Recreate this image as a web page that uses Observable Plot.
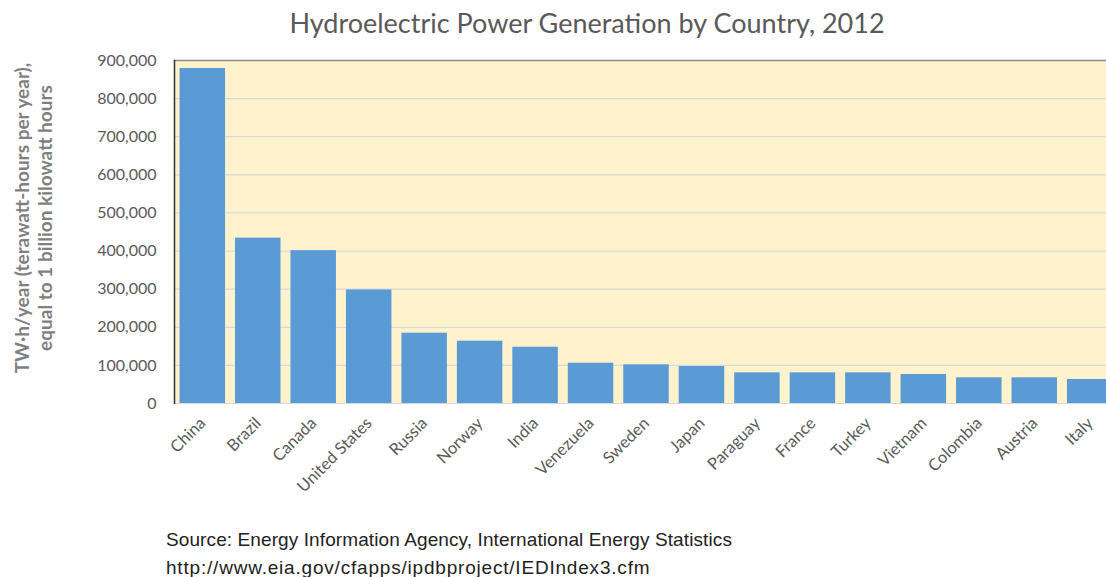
<!DOCTYPE html>
<html>
<head>
<meta charset="utf-8">
<script src="https://cdn.jsdelivr.net/npm/d3@7"></script>
<script src="https://cdn.jsdelivr.net/npm/@observablehq/plot@0.6"></script>
<style>
  html, body { margin: 0; padding: 0; background: #fff; }
  #wrap { position: relative; width: 1106px; height: 577px; overflow: hidden; }
  #title { position: absolute; left: 0; width: 1174px; top: 6px; text-align: center;
           font-family: Lato, "Open Sans", sans-serif; font-size: 27px; color: #595959; }
  #chart { position: absolute; left: 0; top: 0; }
  .src { position: absolute; left: 166px; font-family: "Liberation Sans", Arial, sans-serif;
         font-size: 19px; color: #222; white-space: nowrap; }
</style>
</head>
<body>
<div id="wrap">
  <div id="chart"></div>
  <div id="title">Hydroelectric Power Generation by Country, 2012</div>
  <div class="src" style="top:529px; letter-spacing: 0.1px">Source: Energy Information Agency, International Energy Statistics</div>
  <div class="src" style="top:557px; letter-spacing: 0.8px">http://www.eia.gov/cfapps/ipdbproject/IEDIndex3.cfm</div>
</div>
<script>
const countries = ["China","Brazil","Canada","United States","Russia","Norway","India","Venezuela","Sweden","Japan","Paraguay","France","Turkey","Vietnam","Colombia","Austria","Italy"];
const generation = [879000,434000,401000,298000,184500,163500,147700,105700,101500,97100,80500,80500,80500,76100,67400,67400,63000];
const yTicks = [0,100000,200000,300000,400000,500000,600000,700000,800000,900000];
const yAxisTitle = "TW·h/year (terawatt-hours per year),\nequal to 1 billion kilowatt hours";

const data = countries.map((c, i) => ({country: c, value: generation[i]}));

const chart = Plot.plot({
  width: 1106,
  height: 577,
  marginLeft: 174,
  marginRight: 0,
  marginTop: 60,
  marginBottom: 174,
  style: {background: "transparent", overflow: "hidden"},
  x: {domain: countries, range: [174, 1118], paddingInner: 0.18, paddingOuter: 0.1, round: false},
  y: {domain: [0, 900000]},
  marks: [
    Plot.frame({fill: "#FFF2CC", stroke: null}),
    Plot.ruleY(yTicks, {stroke: "#d6d9dc", strokeWidth: 1.2}),
    Plot.barY(data, {x: "country", y: "value", fill: "#5B9BD5"}),
    Plot.frame({anchor: "top", stroke: "#8a8a8a", strokeWidth: 1.5}),
    Plot.frame({anchor: "left", stroke: "#333", strokeWidth: 1.5}),
    Plot.axisY({ticks: yTicks, tickFormat: d3.format(","), tickSize: 0, tickPadding: 18, label: null,
                fontSize: 16, fill: "#595959", fontFamily: "Lato, sans-serif"}),
    Plot.axisX({tickRotate: -45, tickSize: 0, tickPadding: 17, label: null,
                fontSize: 16.5, fill: "#595959", fontFamily: "Lato, sans-serif"}),
    Plot.text([yAxisTitle], {frameAnchor: "left", rotate: -90, dx: -141, dy: -14, textAnchor: "middle",
                fontSize: 19, fontWeight: "bold", fill: "#7f7f7f", fontFamily: "Lato, sans-serif", lineHeight: 1.2})
  ]
});
document.getElementById("chart").appendChild(chart);
</script>
</body>
</html>
